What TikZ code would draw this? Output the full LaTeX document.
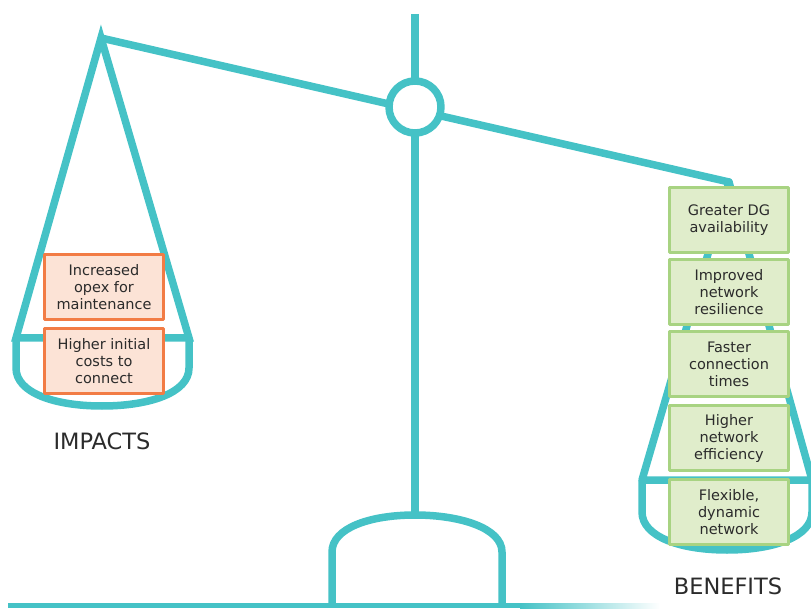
\documentclass[tikz,border=0pt]{standalone}
\usepackage{fontspec}
\setmainfont{DejaVu Sans}
\definecolor{scaleteal}{HTML}{45C2C6}
\definecolor{impactedge}{HTML}{F27C45}
\definecolor{impactfill}{HTML}{FCE3D6}
\definecolor{benefitedge}{HTML}{A8D382}
\definecolor{benefitfill}{HTML}{E0EDCB}
\definecolor{labelgray}{HTML}{2B2B2B}
\tikzset{
    scaleline/.style={draw=scaleteal,line width=7.5pt},
    impactbox/.style={draw=impactedge,fill=impactfill,line width=3.5pt,
        minimum width=119pt,minimum height=65pt,inner sep=1pt,align=center,
        text=labelgray,font=\fontsize{14.5}{17}\selectfont},
    benefitbox/.style={impactbox,draw=benefitedge,fill=benefitfill},
}

\begin{document}
\begin{tikzpicture}[x=1pt,y=-1pt,line join=round]
    \useasboundingbox (0,0) rectangle (811,609);
    \coordinate (leftapex) at (101,38);
    \coordinate (rightapex) at (729,182);

    \fill[scaleteal] (8,603) rectangle (520,608);
    \shade[left color=scaleteal,right color=white] (520,603) rectangle (660,608);

    \draw[scaleline] (332,607) -- (332,552)
        .. controls (332,528) and (370,515) .. (415,515)
        .. controls (460,515) and (502,528) .. (502,552) -- (502,607);
    \draw[scaleline] (415,14) -- (415,515);
    \draw[scaleline] (leftapex) -- (rightapex) -- ++(0,6);

    \draw[scaleline,line join=miter] (16,338) -- (leftapex) -- (189,338) -- cycle;
    \draw[scaleline] (16,338) -- (16,368)
        .. controls (16,393) and (55,406) .. (102,406)
        .. controls (149,406) and (189,393) .. (189,368) -- (189,338);

    \draw[scaleline] (642,480) -- (rightapex) -- (812,480) -- cycle;
    \draw[scaleline] (642,480) -- (642,512)
        .. controls (642,537) and (681,550) .. (727,550)
        .. controls (773,550) and (812,537) .. (812,512) -- (812,480);

    \node[circle,scaleline,fill=white,minimum size=52pt,inner sep=0pt] (pivot) at (415,107) {};

    \foreach \name/\y/\txt in {
        opex/287/{Increased\\opex for\\maintenance},
        initial/361/{Higher initial\\costs to\\connect}}{
        \node[impactbox] (\name) at (104,\y) {\txt};
    }
    \foreach \name/\y/\txt in {
        availability/220/{Greater DG\\availability},
        resilience/292/{Improved\\network\\resilience},
        connection/364/{Faster\\connection\\times},
        efficiency/438/{Higher\\network\\efficiency},
        flexible/512/{Flexible,\\dynamic\\network}}{
        \node[benefitbox] (\name) at (729,\y) {\txt};
    }

    \node[text=labelgray,font=\fontsize{22.5}{26}\selectfont] (impacts) at (102,441) {IMPACTS};
    \node[text=labelgray,font=\fontsize{22.5}{26}\selectfont] (benefits) at (728,586) {BENEFITS};
\end{tikzpicture}
\end{document}
